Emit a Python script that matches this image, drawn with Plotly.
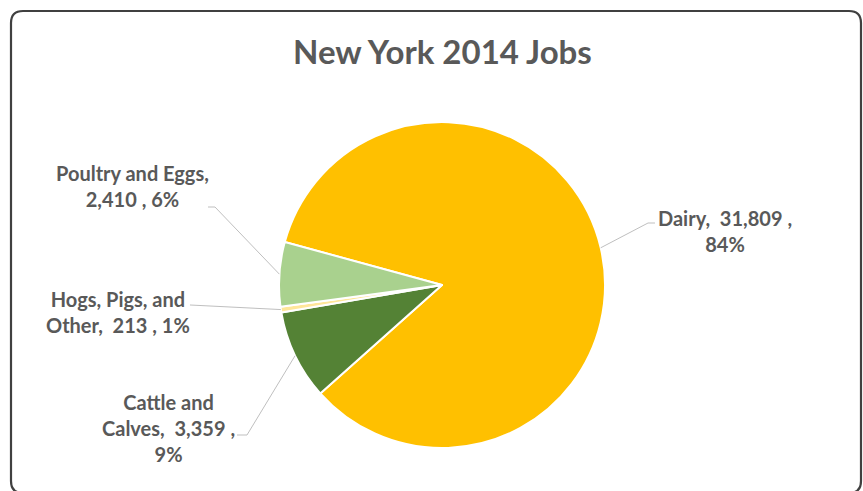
import math
import plotly.graph_objects as go

# Job counts by sector
categories = ["Dairy", "Cattle and Calves", "Hogs, Pigs, and Other", "Poultry and Eggs"]
jobs = [31809, 3359, 213, 2410]
colors = ["#FFC000", "#548235", "#FFE699", "#A9D18E"]

W, H = 863, 491
CX, CY, R = 442, 285, 163          # pie centre and radius in pixels
START = 285.3                      # angle (clockwise from 12 o'clock) where the first slice begins

total = sum(jobs)
pcts = [round(v / total * 100) for v in jobs]


def px(x):
    return x / W


def py(y):
    return 1 - y / H


fig = go.Figure(go.Pie(
    labels=categories,
    values=jobs,
    sort=False,
    direction="clockwise",
    rotation=START,
    marker=dict(colors=colors, line=dict(color="white", width=2)),
    textinfo="none",
    hoverinfo="label+value+percent",
    showlegend=False,
    domain=dict(x=[px(CX - R), px(CX + R)], y=[py(CY + R), py(CY - R)]),
))

# label texts
texts = [
    f"Dairy,  {jobs[0]:,} ,<br>{pcts[0]}%",
    f"Cattle and<br>Calves,  {jobs[1]:,} ,<br>{pcts[1]}%",
    f"Hogs, Pigs, and<br>Other,  {jobs[2]:,} , {pcts[2]}%",
    f"Poultry and Eggs,<br>{jobs[3]:,} , {pcts[3]}%",
]
# label centres (pixels) and leader elbow points
label_pos = [(725, 231), (168, 428), (118, 312), (132, 186)]
elbows = [[(655, 223), (648, 223)],
          [(237, 435), (247, 435)],
          [(190, 305), (190, 305)],
          [(208, 207), (215, 207)]]

shapes = []
annotations = []
acc = 0
for i, v in enumerate(jobs):
    mid = START + (acc + v / 2) / total * 360
    acc += v
    a = math.radians(mid)
    ex = CX + R * math.sin(a)
    ey = CY - R * math.cos(a)
    pts = elbows[i] + [(ex, ey)]
    path = "M " + " L ".join(f"{px(x):.5f},{py(y):.5f}" for x, y in pts)
    shapes.append(dict(type="path", xref="paper", yref="paper", path=path,
                       line=dict(color="#BFBFBF", width=1)))
    lx, ly = label_pos[i]
    annotations.append(dict(
        x=px(lx), y=py(ly), xref="paper", yref="paper",
        text=texts[i], showarrow=False, align="center",
        xanchor="center", yanchor="middle",
        font=dict(family="Lato", size=20, color="#595959", weight="bold"),
    ))

# title
annotations.append(dict(
    x=px(442), y=py(51), xref="paper", yref="paper",
    text="New York 2014 Jobs", showarrow=False,
    xanchor="center", yanchor="middle",
    font=dict(family="Lato", size=33, color="#595959", weight="bold"),
))

# rounded chart frame
x0, y0, x1, y1, rr = 11, 11, 861, 493, 12
frame = (f"M {px(x0 + rr)},{py(y0)} L {px(x1 - rr)},{py(y0)} "
         f"Q {px(x1)},{py(y0)} {px(x1)},{py(y0 + rr)} "
         f"L {px(x1)},{py(y1 - rr)} Q {px(x1)},{py(y1)} {px(x1 - rr)},{py(y1)} "
         f"L {px(x0 + rr)},{py(y1)} Q {px(x0)},{py(y1)} {px(x0)},{py(y1 - rr)} "
         f"L {px(x0)},{py(y0 + rr)} Q {px(x0)},{py(y0)} {px(x0 + rr)},{py(y0)} Z")
shapes.append(dict(type="path", xref="paper", yref="paper", path=frame,
                   line=dict(color="#404040", width=2.2), layer="above"))

fig.update_layout(
    width=W, height=H,
    margin=dict(l=0, r=0, t=0, b=0),
    paper_bgcolor="white", plot_bgcolor="white",
    shapes=shapes, annotations=annotations,
)

fig.write_html("out.html")
